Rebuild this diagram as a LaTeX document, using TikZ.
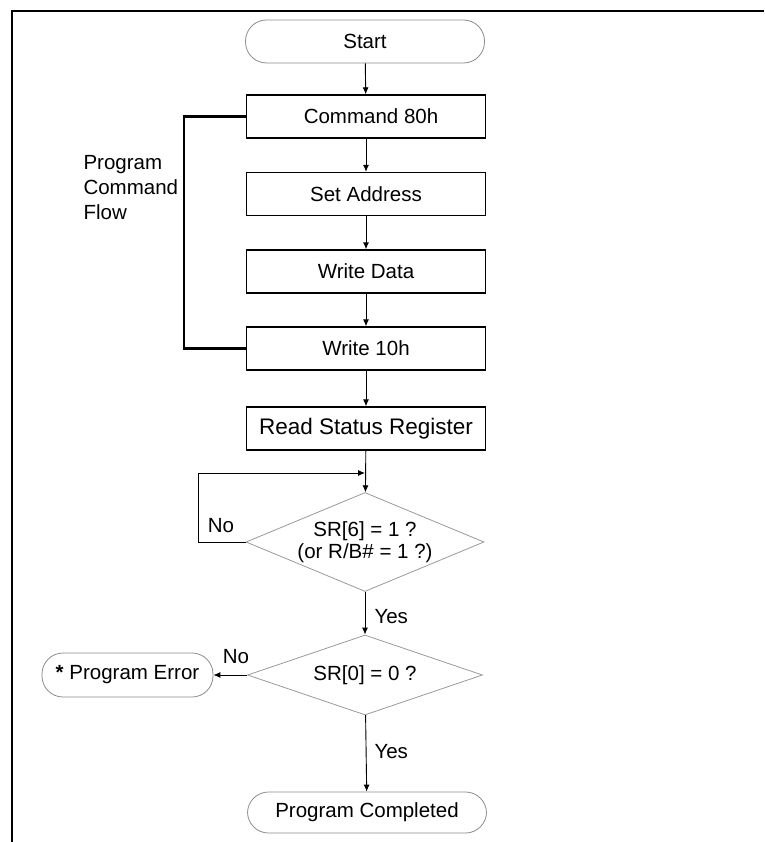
\documentclass[tikz,border=0pt]{standalone}
\usepackage{fontspec}
\setmainfont{Liberation Sans}
\usetikzlibrary{arrows.meta,positioning,shapes.geometric}

\begin{document}
\begin{tikzpicture}[x=1pt,y=-1pt,
  font=\fontsize{20.5}{25}\selectfont,
  terminal/.style={rectangle,rounded corners=21pt,draw=black!45,line width=0.8pt,minimum width=239pt,minimum height=43pt},
  process/.style={rectangle,draw,line width=1.4pt,minimum width=239pt,minimum height=43pt},
  decision/.style={diamond,draw=black!40,line width=0.8pt,inner sep=-8pt,aspect=2.4,align=center,font=\fontsize{20.5}{22}\selectfont},
  arrow/.style={-{Latex[length=7pt,width=6pt]},line width=0.9pt},
  bracket/.style={line width=2.6pt}
]
  \useasboundingbox (0,0) rectangle (764,842);
  \draw[line width=1.8pt] (764,11) -- (12,11) -- (12,842);

  \node[terminal] (start) at (365,41.5) {Start};
  \node[process] (cmd) at (366,116.5) {\hspace{10pt}Command 80h};
  \node[process] (addr) at (366,194) {Set Address};
  \node[process] (data) at (366,271.5) {Write Data};
  \node[process] (w10) at (366,348.5) {Write 10h};
  \node[process] (rsr) at (366,428.5) {\fontsize{22.5}{25}\selectfont Read Status Register};
  \node[decision,minimum width=238pt,minimum height=99pt] (busy) at (365,542) {SR[6] = 1 ?\\(or R/B\# = 1 ?)};
  \node[decision,minimum width=235pt,minimum height=80pt] (pass) at (365,675) {SR[0] = 0 ?};
  \node[terminal,minimum width=171pt,minimum height=44pt] (err) at (127.5,675) {\textbf{*} Program Error};
  \node[terminal,minimum height=41pt] (done) at (367,812.5) {Program Completed};

  \node[align=left,anchor=west] (flow) at (80,188) {Program\\Command\\Flow};
  \node (busyno) at (221,526) {No};
  \node[anchor=west] (busyyes) at (371,617) {Yes};
  \node (passno) at (236,657) {No};
  \node[anchor=west] (passyes) at (371,752) {Yes};

  \coordinate (loopin) at (365,473);
  \coordinate (loopcorner) at (198,473);

  \draw[arrow] (start) -- (cmd);
  \draw[arrow] (cmd) -- (addr);
  \draw[arrow] (addr) -- (data);
  \draw[arrow] (data) -- (w10);
  \draw[arrow] (w10) -- (rsr);
  \draw[arrow] (rsr) -- (busy);
  \draw[arrow] (busy.west) -| (loopcorner) -- (loopin);
  \draw[arrow] (busy) -- (pass);
  \draw[arrow] (pass) -- (err);
  \draw[arrow] (pass) -- (done);
  \draw[bracket] (cmd.west) -- ++(-62,0) |- (w10.west);
\end{tikzpicture}
\end{document}
